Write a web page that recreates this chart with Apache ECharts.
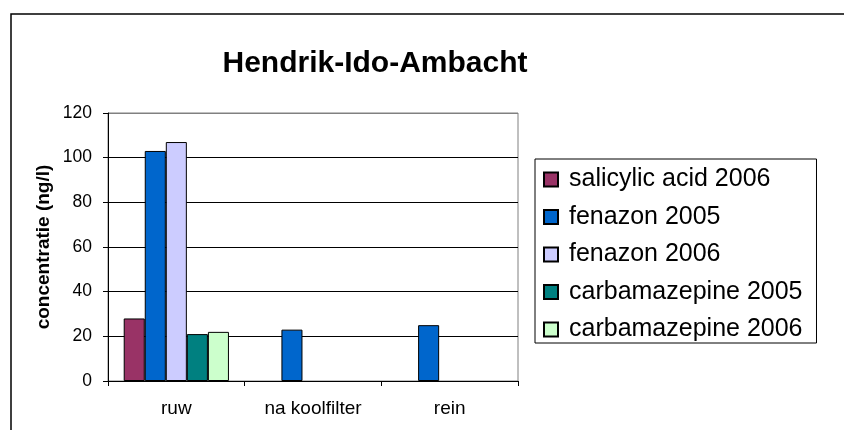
<!DOCTYPE html>
<html>
<head>
<meta charset="utf-8">
<title>Hendrik-Ido-Ambacht</title>
<script src="https://cdn.jsdelivr.net/npm/echarts@6/dist/echarts.min.js"></script>
<style>
html, body { margin: 0; padding: 0; background: #fff; }
#main { width: 844px; height: 430px; }
</style>
</head>
<body>
<div id="main"></div>
<script>
// data
var categories = ['ruw', 'na koolfilter', 'rein'];
var seriesNames = ['salicylic acid 2006', 'fenazon 2005', 'fenazon 2006', 'carbamazepine 2005', 'carbamazepine 2006'];
var salicylic2006 = [28, null, null];
var fenazon2005 = [103, 23, 25];
var fenazon2006 = [107, null, null];
var carbamazepine2005 = [21, null, null];
var carbamazepine2006 = [22, null, null];
var yTicks = [0, 20, 40, 60, 80, 100, 120];

var colors = ['#993366', '#0066CC', '#CCCCFF', '#008080', '#CCFFCC'];
var fontName = '"Liberation Sans", Arial, sans-serif';

function makeSeries() {
	var values = [salicylic2006, fenazon2005, fenazon2006, carbamazepine2005, carbamazepine2006];
	var list = [];
	for (var i = 0; i < values.length; i++) {
		list.push({
			name: seriesNames[i],
			type: 'bar',
			data: values[i],
			barGap: '0%',
			barCategoryGap: '23%',
			itemStyle: { color: colors[i], borderColor: '#000', borderWidth: 1 }
		});
	}
	return list;
}

// split lines black, top one grey like the plot border
var splitColors = [];
for (var k = 0; k < yTicks.length; k++) {
	splitColors.push(k == yTicks.length - 1 ? '#808080' : '#000');
}

var option = {
	animation: false,
	backgroundColor: '#fff',
	textStyle: { fontFamily: fontName },
	title: {
		text: 'Hendrik-Ido-Ambacht',
		left: 370,
		textAlign: 'center',
		top: 44,
		textStyle: { fontFamily: fontName, fontSize: 30, fontWeight: 'bold', color: '#000' }
	},
	graphic: [{
		type: 'rect',
		shape: { x: 11, y: 14, width: 2000, height: 1000 },
		style: { fill: 'none', stroke: '#000', lineWidth: 1.5 },
		silent: true
	}],
	legend: {
		orient: 'vertical',
		left: 535,
		top: 159,
		padding: [8, 14, 1, 8],
		itemGap: 12.5,
		itemWidth: 14,
		itemHeight: 14,
		icon: 'rect',
		borderColor: '#000',
		borderWidth: 1,
		data: seriesNames,
		textStyle: { fontFamily: fontName, fontSize: 25, color: '#000', padding: [0, 0, 0, 6] }
	},
	grid: {
		left: 108,
		right: 326,
		top: 113,
		bottom: 49,
		show: true,
		borderColor: '#808080',
		borderWidth: 1
	},
	xAxis: {
		type: 'category',
		data: categories,
		axisLine: { lineStyle: { color: '#000', width: 1 } },
		axisTick: { show: true, length: 5, lineStyle: { color: '#000' } },
		axisLabel: { color: '#000', fontSize: 19, margin: 18, fontFamily: fontName }
	},
	yAxis: {
		type: 'value',
		min: 0,
		max: 120,
		interval: 20,
		name: 'concentratie (ng/l)',
		nameLocation: 'middle',
		nameGap: 55,
		nameTextStyle: { fontFamily: fontName, fontSize: 19, fontWeight: 'bold', color: '#000' },
		axisLine: { show: true, lineStyle: { color: '#000', width: 1 } },
		axisTick: { show: true, length: 5, lineStyle: { color: '#000' } },
		axisLabel: { color: '#000', fontSize: 17.5, margin: 16, fontFamily: fontName },
		splitLine: { show: true, lineStyle: { color: splitColors, width: 1 } }
	},
	series: makeSeries()
};

var myChart = echarts.init(document.getElementById('main'));
myChart.setOption(option);
</script>
</body>
</html>
